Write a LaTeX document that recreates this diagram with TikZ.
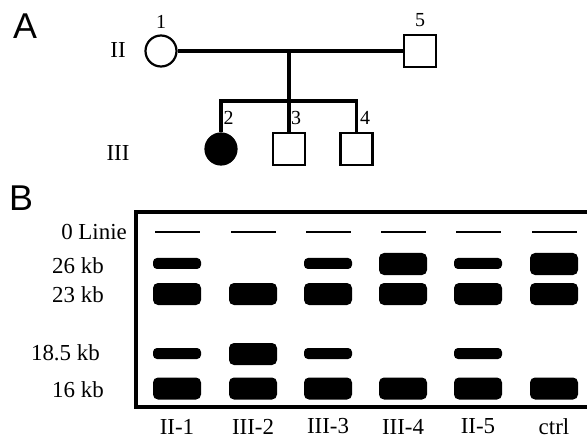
\documentclass[tikz,border=0pt]{standalone}
\usepackage{fontspec}
\setmainfont{Liberation Serif}
\newfontfamily\panelfont{Liberation Sans}
\begin{document}
\begin{tikzpicture}[x=1bp,y=-1bp,
  person/.style={draw, line width=2.2bp, inner sep=0pt},
  female/.style={person, circle, minimum size=31bp},
  male/.style={person, rectangle, minimum size=32bp},
  affected/.style={fill=black},
  link/.style={line width=3.2bp},
  gen/.style={font=\fontsize{23}{25}\selectfont, inner sep=0pt},
  idx/.style={font=\fontsize{20}{22}\selectfont, inner sep=0pt},
  panel/.style={font=\panelfont\fontsize{36}{38}\selectfont, inner sep=0pt},
  gelframe/.style={line width=3.4bp, line join=miter},
  sizelabel/.style={font=\fontsize{23}{25}\selectfont, inner sep=0pt, anchor=east},
  lanelabel/.style={font=\fontsize{23}{25}\selectfont, inner sep=0pt},
  gelband/.style={fill=black, rectangle, rounded corners=5bp, inner sep=0pt, minimum width=48bp},
  bigband/.style={gelband, minimum height=22bp},
  smallband/.style={gelband, rounded corners=4bp, minimum height=11bp},
  zeroline/.style={fill=black, rectangle, inner sep=0pt, minimum width=45bp, minimum height=2.4bp}
]
\useasboundingbox (0,0) rectangle (587,437);
\fill[white] (0,0) rectangle (587,437);

% ---------- A: pedigree ----------
\node[panel] (labA) at (25,26.5) {A};
\node[gen] (genII) at (118,50) {II};
\node[gen] (genIII) at (118,153) {III};

\node[female] (p1) at (161,51) {};
\node[male] (p5) at (420,51) {};
\node[female, affected] (p2) at (221,149) {};
\node[male] (p3) at (289,149) {};
\node[male] (p4) at (356.5,149) {};

\node[idx] (n1) at (161,21.5) {1};
\node[idx] (n5) at (420,20) {5};
\node[idx] (n2) at (228.5,118) {2};
\node[idx] (n3) at (296,118) {3};
\node[idx] (n4) at (365,118) {4};

\coordinate (mate) at (289,51);
\coordinate (sib) at (289,101);
\draw[link] (p1.east) -- (p5.west);
\draw[link] (mate) -- (sib);
\draw[link, line join=miter] (p2.north) |- (sib) -| (p4.north);
\draw[link] (sib) -- (p3.north);

% ---------- B: Southern blot ----------
\node[panel] (labB) at (21,198) {B};
\draw[gelframe] (592,212) -- (136,212) -- (136,407) -- (592,407);

\node[sizelabel] (s0) at (127,232) {0 Linie};
\node[sizelabel] (s26) at (104,266) {26 kb};
\node[sizelabel] (s23) at (104,295) {23 kb};
\node[sizelabel] (s185) at (100,352.5) {18.5 kb};
\node[sizelabel] (s16) at (104,389.5) {16 kb};

\foreach \x/\n [count=\i] in {177/II-1,253/III-2,328/III-3,403/III-4,478/II-5,554/ctrl}{
  \node[zeroline] (z\i) at (\x,232) {};
  \node[bigband] (b23-\i) at (\x,294) {};
  \node[bigband] (b16-\i) at (\x,388.5) {};
  \node[lanelabel] (lane\i) at (\x,426.5) {\n};
}

% 26 kb fragment
\node[smallband] (b26-1) at (177,263.5) {};
\node[smallband] (b26-3) at (328,263.5) {};
\node[bigband]   (b26-4) at (403,264) {};
\node[smallband] (b26-5) at (478,263.5) {};
\node[bigband]   (b26-6) at (554,264) {};

% 18.5 kb fragment
\node[smallband] (b185-1) at (177,353.5) {};
\node[bigband]   (b185-2) at (253,354) {};
\node[smallband] (b185-3) at (328,353.5) {};
\node[smallband] (b185-5) at (478,353.5) {};
\end{tikzpicture}
\end{document}
